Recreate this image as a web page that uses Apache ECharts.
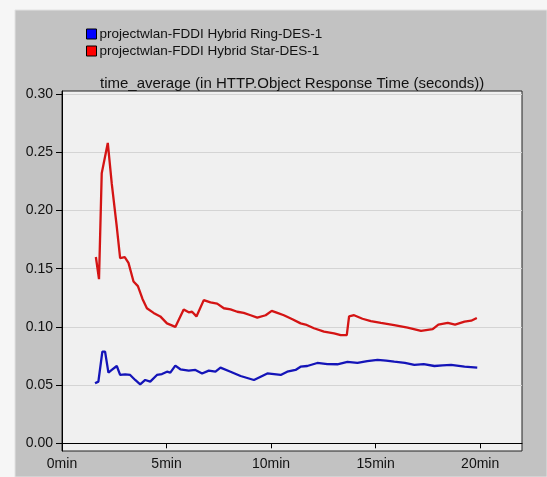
<!DOCTYPE html>
<html>
<head>
<meta charset="utf-8">
<script src="https://cdn.jsdelivr.net/npm/echarts@6/dist/echarts.min.js"></script>
<style>
  html, body { margin: 0; padding: 0; background: #f6f6f6; }
  #chart { width: 547px; height: 477px; }
</style>
</head>
<body>
<div id="chart"></div>
<script>
// time in minutes, values in seconds
const ringTime = [1.58, 1.74, 1.93, 2.06, 2.22, 2.38, 2.62, 2.78, 3.02, 3.26, 3.50, 3.74, 3.98, 4.22, 4.54, 4.78, 5.02, 5.18, 5.42, 5.66, 6.06, 6.38, 6.70, 7.02, 7.34, 7.58, 8.06, 8.54, 9.18, 9.50, 9.82, 10.46, 10.77, 11.17, 11.41, 11.73, 12.21, 12.69, 13.17, 13.65, 14.13, 14.60, 15.09, 15.50, 15.89, 16.40, 16.85, 17.30, 17.81, 18.20, 18.61, 19.25, 19.86];
const ringValue = [0.0515, 0.053, 0.0787, 0.0787, 0.0607, 0.063, 0.0664, 0.0587, 0.0593, 0.0587, 0.0544, 0.0507, 0.0544, 0.053, 0.0587, 0.0595, 0.0615, 0.0607, 0.0667, 0.0636, 0.0624, 0.063, 0.060, 0.0624, 0.0615, 0.065, 0.0615, 0.0578, 0.0544, 0.0572, 0.060, 0.0587, 0.0615, 0.063, 0.0658, 0.0664, 0.069, 0.068, 0.0679, 0.070, 0.069, 0.0705, 0.0716, 0.071, 0.0701, 0.069, 0.0673, 0.068, 0.0664, 0.067, 0.0673, 0.0658, 0.065];

const starTime = [1.62, 1.77, 1.90, 2.19, 2.38, 2.62, 2.78, 3.00, 3.18, 3.42, 3.63, 3.85, 4.06, 4.38, 4.70, 5.02, 5.42, 5.58, 5.82, 6.06, 6.22, 6.43, 6.78, 7.10, 7.42, 7.74, 8.06, 8.38, 8.69, 9.02, 9.34, 9.74, 10.03, 10.30, 10.61, 11.02, 11.41, 11.65, 12.05, 12.53, 13.01, 13.33, 13.62, 13.73, 13.97, 14.37, 14.77, 15.25, 15.89, 16.53, 17.17, 17.73, 18.00, 18.45, 18.80, 19.25, 19.57, 19.84];
const starValue = [0.160, 0.141, 0.232, 0.258, 0.223, 0.186, 0.159, 0.160, 0.155, 0.139, 0.135, 0.124, 0.116, 0.112, 0.109, 0.103, 0.100, 0.106, 0.115, 0.1125, 0.113, 0.109, 0.123, 0.121, 0.120, 0.116, 0.115, 0.113, 0.112, 0.110, 0.108, 0.110, 0.1137, 0.112, 0.110, 0.1065, 0.103, 0.102, 0.0988, 0.0959, 0.0945, 0.093, 0.093, 0.109, 0.110, 0.107, 0.105, 0.1035, 0.1016, 0.0993, 0.0966, 0.098, 0.102, 0.1035, 0.102, 0.1045, 0.1053, 0.1077];

const xTicks = [0, 5, 10, 15, 20];
const yTicks = [0, 0.05, 0.10, 0.15, 0.20, 0.25, 0.30];

const ringName = "projectwlan-FDDI Hybrid Ring-DES-1";
const starName = "projectwlan-FDDI Hybrid Star-DES-1";

const font = "Liberation Sans, Arial, sans-serif";

let myChart = echarts.init(document.getElementById("chart"));
myChart.setOption({
  animation: false,
  backgroundColor: "transparent",
  graphic: [
    {
      type: "rect",
      z: -10,
      shape: { x: 15, y: 10, width: 532, height: 467 },
      style: { fill: "#c2c2c2", stroke: "#e2e2e2", lineWidth: 1 },
    },
  ],
  title: {
    text: "time_average (in HTTP.Object Response Time (seconds))",
    left: 95,
    top: 71,
    textStyle: { fontFamily: font, fontSize: 15, fontWeight: "normal", color: "#111" },
  },
  legend: {
    orient: "vertical",
    left: 81,
    top: 22,
    itemGap: 3,
    itemWidth: 10,
    itemHeight: 10,
    icon: "rect",
    textStyle: { fontFamily: font, fontSize: 13.5, color: "#111", padding: [0, 0, 0, -2] },
    data: [
      { name: ringName, itemStyle: { color: "#0000ff", borderColor: "#000", borderWidth: 1 } },
      { name: starName, itemStyle: { color: "#ff0000", borderColor: "#000", borderWidth: 1 } },
    ],
  },
  grid: {
    left: 62,
    right: 25,
    top: 91,
    bottom: 26,
    show: true,
    backgroundColor: "#f0f0f0",
    borderColor: "#222",
    borderWidth: 1,
  },
  xAxis: {
    type: "value",
    min: 0,
    max: 22,
    axisLine: { show: true, lineStyle: { color: "#000" } },
    axisTick: { show: true, length: 5, customValues: xTicks, lineStyle: { color: "#000" } },
    axisLabel: {
      customValues: xTicks,
      formatter: (v) => v + "min",
      fontFamily: font,
      fontSize: 14,
      color: "#111",
      margin: 6,
    },
    splitLine: { show: false },
  },
  yAxis: {
    type: "value",
    min: -0.0066,
    max: 0.3026,
    axisLine: { show: true, lineStyle: { color: "#000" } },
    axisTick: { show: true, length: 6, customValues: yTicks, lineStyle: { color: "#000" } },
    axisLabel: {
      customValues: yTicks,
      formatter: (v) => v.toFixed(2),
      fontFamily: font,
      fontSize: 14,
      color: "#111",
      margin: 9,
    },
    splitLine: { show: true, lineStyle: { color: "#d4d4d4", width: 1 } },
  },
  series: [
    {
      name: ringName,
      type: "line",
      showSymbol: false,
      symbol: "none",
      lineStyle: { color: "#1414b8", width: 2.3 },
      itemStyle: { color: "#0000ff" },
      data: ringTime.map((t, i) => [t, ringValue[i]]),
    },
    {
      name: starName,
      type: "line",
      showSymbol: false,
      symbol: "none",
      lineStyle: { color: "#d41414", width: 2.3 },
      itemStyle: { color: "#ff0000" },
      data: starTime.map((t, i) => [t, starValue[i]]),
    },
  ],
});
</script>
</body>
</html>
